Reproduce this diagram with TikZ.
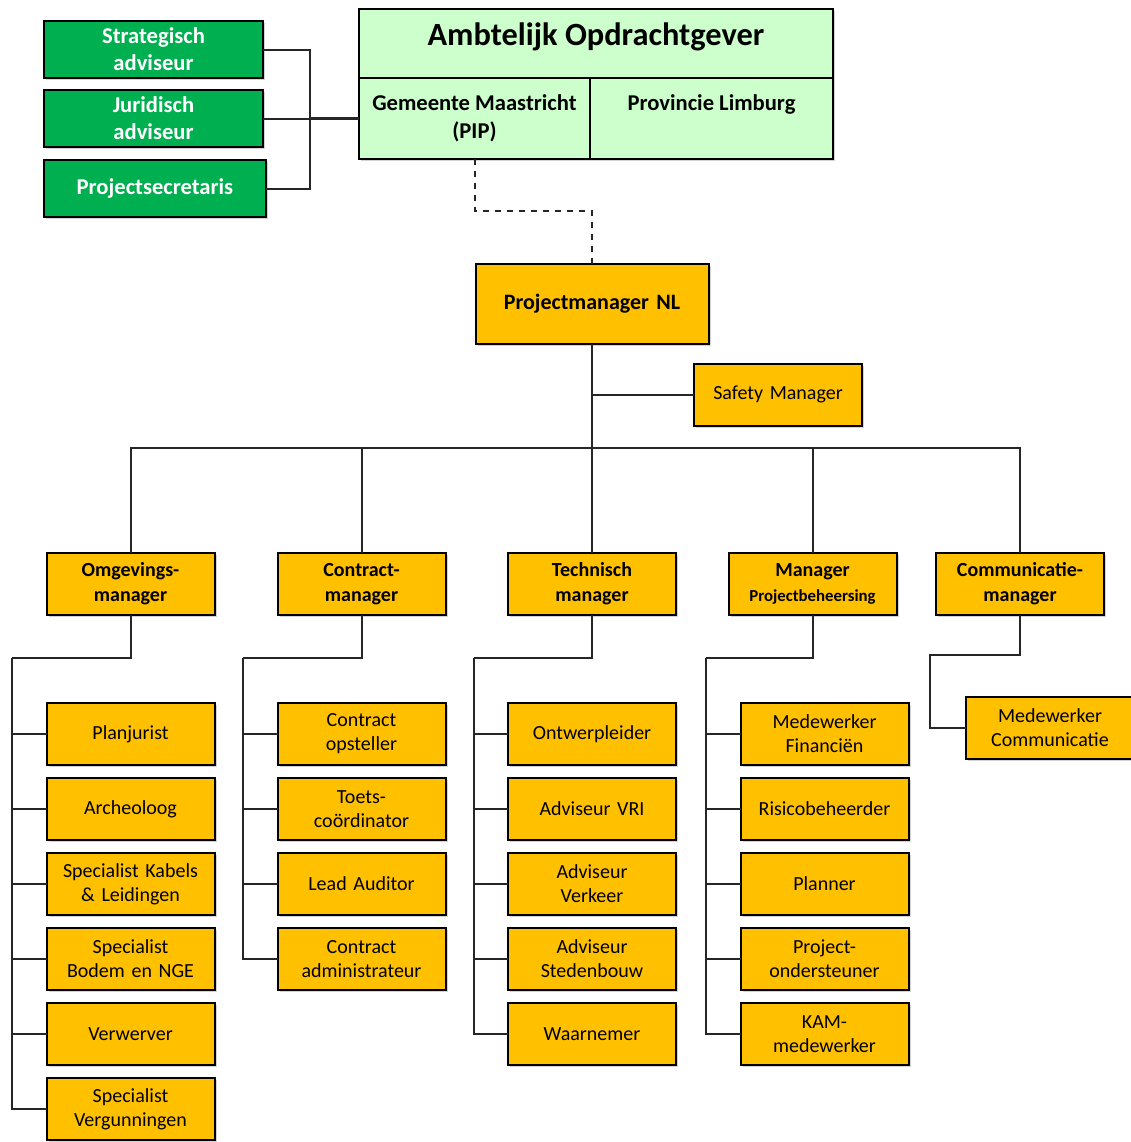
\documentclass[tikz,border=0pt]{standalone}
\usepackage{fontspec}
\setmainfont{Carlito}
\usetikzlibrary{positioning}
\usetikzlibrary{shadows}

\definecolor{orgorange}{HTML}{FFC000}
\definecolor{orggreen}{HTML}{00B050}
\definecolor{orglightgreen}{HTML}{CCFFCC}

\begin{document}
\begin{tikzpicture}[x=0.5pt, y=-0.5pt,
                boxshadow/.style={drop shadow={shadow xshift=1pt, shadow yshift=-1pt, opacity=0.35}},
                orangesquarednode/.style={rectangle, draw=black, fill=orgorange, line width=1pt, outer sep=0pt, inner sep=1pt, minimum width=84pt, minimum height=31pt, text width=80pt, align=center, font=\fontsize{10}{12}\selectfont, boxshadow},
                managernode/.style={orangesquarednode, font=\fontsize{10}{12.5}\selectfont\bfseries},
                greensquarednode/.style={rectangle, draw=black, fill=orggreen, line width=1pt, outer sep=0pt, inner sep=1pt, minimum width=109.5pt, minimum height=28.5pt, text width=105pt, align=center, text=white, font=\fontsize{11.3}{13.5}\selectfont\bfseries, boxshadow},
                lightgreennode/.style={rectangle, draw=black, fill=orglightgreen, line width=1pt, outer sep=0pt, inner sep=1pt, align=center, boxshadow},
                connline/.style={draw=black!85, line width=1pt},
                ]

    \useasboundingbox (0,0) rectangle (1131,1142);

    % opdrachtgever
    \node[lightgreennode, minimum width=237pt, minimum height=34.5pt, text depth=9.5pt, font=\fontsize{16.2}{19}\selectfont\bfseries] (ao) at (596,43.5) {Ambtelijk Opdrachtgever};
    \node[lightgreennode, minimum width=115.5pt, minimum height=40.5pt, font=\fontsize{11.3}{14}\selectfont\bfseries] (gem) at (474.5,118.5) {Gemeente Maastricht\\(PIP)};
    \node[lightgreennode, minimum width=121.5pt, minimum height=40.5pt, font=\fontsize{11.3}{14}\selectfont\bfseries] (prov) at (711.5,118.5) {Provincie Limburg\\\phantom{(PIP)}};

    % adviseurs
    \node[greensquarednode] (strat) at (153.5,49.5) {Strategisch\\adviseur};
    \node[greensquarednode, below=6pt of strat] (jur) {Juridisch\\adviseur};
    \node[greensquarednode, minimum width=111pt, below=6.5pt of jur, xshift=0.75pt] (sec) {Projectsecretaris};

    \coordinate (advbus) at (310,118.5);
    \draw[connline] (strat.east) -| (advbus);
    \draw[connline] (sec.east) -| (advbus);
    \draw[connline] (jur.east) -- (advbus);
    \draw[connline, line width=1.3pt] (advbus) -- (gem.west);

    % projectmanager
    \node[managernode, minimum width=116.5pt, minimum height=40pt, text width=110pt, font=\fontsize{11}{13}\selectfont\bfseries] (pm) at (592,304) {Projectmanager NL};
    \node[orangesquarednode] (safety) at (778,394.5) {Safety Manager};
    \draw[connline, dashed] (gem.south) -- ++(0,52) -| (pm.north);

    % managers
    \node[managernode] (omg) at (130.5,584) {Omgevings-\\manager};
    \node[managernode] (con) at (361.5,584) {Contract-\\manager};
    \node[managernode] (tech) at (592,584) {Technisch\\manager};
    \node[managernode, font=\fontsize{10}{12.5}\selectfont\bfseries] (mpb) at (812.5,584) {Manager\\{\fontsize{8.4}{10}\selectfont Projectbeheersing}};
    \node[managernode] (com) at (1020,584) {Communicatie-\\manager};

    \coordinate (mainbus) at (592,448);
    \draw[connline, line width=1.4pt] (pm.south) -- (mainbus);
    \draw[connline] (safety.west) -| (pm.south);
    \draw[connline] (omg.north) |- (mainbus);
    \draw[connline] (con.north) |- (mainbus);
    \draw[connline] (tech.north) -- (mainbus);
    \draw[connline] (mpb.north) |- (mainbus);
    \draw[connline] (com.north) |- (mainbus);

    % omgevingsmanager
    \node[orangesquarednode, below=44pt of omg] (plan) {Planjurist};
    \node[orangesquarednode, below=6.5pt of plan] (arch) {Archeoloog};
    \node[orangesquarednode, below=6.5pt of arch] (kabel) {Specialist Kabels\\\& Leidingen};
    \node[orangesquarednode, below=6.5pt of kabel] (bodem) {Specialist\\Bodem en NGE};
    \node[orangesquarednode, below=6.5pt of bodem] (verw) {Verwerver};
    \node[orangesquarednode, below=6.5pt of verw] (verg) {Specialist\\Vergunningen};

    \coordinate (omgbus) at (12,658);
    \draw[connline] (omg.south) |- (omgbus);
    \foreach \k in {plan,arch,kabel,bodem,verw,verg}
        \draw[connline] (omgbus) |- (\k.west);

    % contractmanager
    \node[orangesquarednode, below=44pt of con] (opst) {Contract\\opsteller};
    \node[orangesquarednode, below=6.5pt of opst] (toets) {Toets-\\coördinator};
    \node[orangesquarednode, below=6.5pt of toets] (audit) {Lead Auditor};
    \node[orangesquarednode, below=6.5pt of audit] (admin) {Contract\\administrateur};

    \coordinate (conbus) at (243,658);
    \draw[connline] (con.south) |- (conbus);
    \foreach \k in {opst,toets,audit,admin}
        \draw[connline] (conbus) |- (\k.west);

    % technisch manager
    \node[orangesquarednode, below=44pt of tech] (ontw) {Ontwerpleider};
    \node[orangesquarednode, below=6.5pt of ontw] (vri) {Adviseur VRI};
    \node[orangesquarednode, below=6.5pt of vri] (verk) {Adviseur\\Verkeer};
    \node[orangesquarednode, below=6.5pt of verk] (sted) {Adviseur\\Stedenbouw};
    \node[orangesquarednode, below=6.5pt of sted] (waar) {Waarnemer};

    \coordinate (techbus) at (474,658);
    \draw[connline] (tech.south) |- (techbus);
    \foreach \k in {ontw,vri,verk,sted,waar}
        \draw[connline] (techbus) |- (\k.west);

    % manager projectbeheersing
    \node[orangesquarednode, below=44pt of mpb, xshift=6pt] (fin) {Medewerker\\Financiën};
    \node[orangesquarednode, below=6.5pt of fin] (risico) {Risicobeheerder};
    \node[orangesquarednode, below=6.5pt of risico] (plnr) {Planner};
    \node[orangesquarednode, below=6.5pt of plnr] (onder) {Project-\\ondersteuner};
    \node[orangesquarednode, below=6.5pt of onder] (kam) {KAM-\\medewerker};

    \coordinate (mpbbus) at (706,658);
    \draw[connline] (mpb.south) |- (mpbbus);
    \foreach \k in {fin,risico,plnr,onder,kam}
        \draw[connline] (mpbbus) |- (\k.west);

    % communicatiemanager
    \node[orangesquarednode, below=41pt of com, xshift=15pt] (mwcom) {Medewerker\\Communicatie};

    \coordinate (combus) at (930,655);
    \draw[connline] (com.south) |- (combus) |- (mwcom.west);
\end{tikzpicture}
\end{document}
